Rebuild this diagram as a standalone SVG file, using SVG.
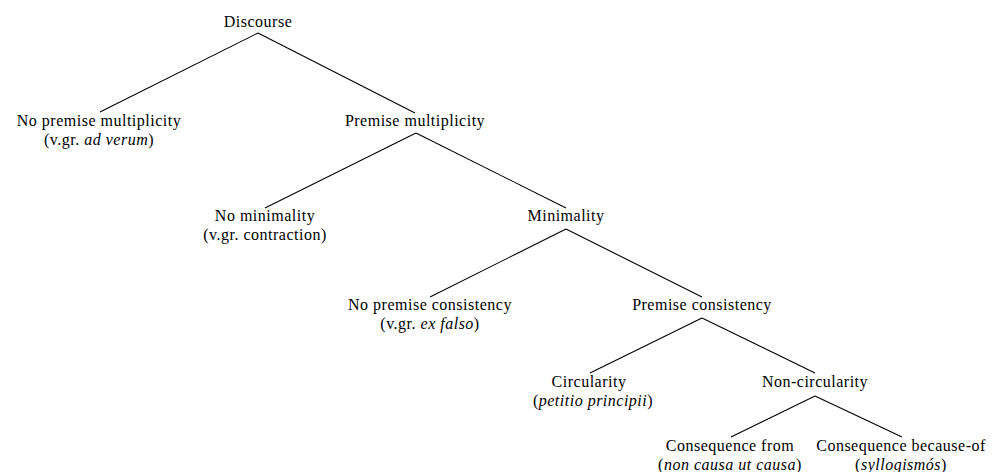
<svg xmlns="http://www.w3.org/2000/svg" width="997" height="472" viewBox="0 0 997 472">
<style>
text{font-family:'Liberation Serif','DejaVu Serif',serif;font-size:16px;letter-spacing:0.5px;fill:#000;text-anchor:middle}
.i{font-style:italic}
.c line{stroke:#000;stroke-width:1.1}
</style>
<rect width="997" height="472" fill="#fff"/>
<g class="c" id="connectors">
<line x1="258" y1="33" x2="100" y2="112"/>
<line x1="258" y1="33" x2="415" y2="113"/>
<line x1="416" y1="133" x2="265" y2="208"/>
<line x1="416" y1="133" x2="566" y2="208"/>
<line x1="566" y1="229" x2="430" y2="297"/>
<line x1="566" y1="229" x2="702" y2="297"/>
<line x1="702" y1="318" x2="590" y2="373"/>
<line x1="702" y1="318" x2="815" y2="373"/>
<line x1="815" y1="396" x2="731" y2="437"/>
<line x1="815" y1="396" x2="902" y2="437"/>
</g>
<g id="discourse"><text x="258" y="27">Discourse</text></g>
<g id="no-premise-multiplicity"><text x="99" y="126">No premise multiplicity</text><text x="99" y="145">(v.gr. <tspan class="i">ad verum</tspan>)</text></g>
<g id="premise-multiplicity"><text x="415" y="126">Premise multiplicity</text></g>
<g id="no-minimality"><text x="265" y="221">No minimality</text><text x="265" y="240">(v.gr. contraction)</text></g>
<g id="minimality"><text x="566" y="221">Minimality</text></g>
<g id="no-premise-consistency"><text x="430" y="310">No premise consistency</text><text x="430" y="329">(v.gr. <tspan class="i">ex falso</tspan>)</text></g>
<g id="premise-consistency"><text x="702" y="310">Premise consistency</text></g>
<g id="circularity"><text x="589" y="387">Circularity</text><text x="593" y="406">(<tspan class="i">petitio principii</tspan>)</text></g>
<g id="non-circularity"><text x="815" y="387">Non-circularity</text></g>
<g id="consequence-from"><text x="730" y="451">Consequence from</text><text x="730" y="470">(<tspan class="i">non causa ut causa</tspan>)</text></g>
<g id="consequence-because-of"><text x="901" y="451">Consequence because-of</text><text x="901" y="470">(<tspan class="i">syllogismós</tspan>)</text></g>
</svg>
